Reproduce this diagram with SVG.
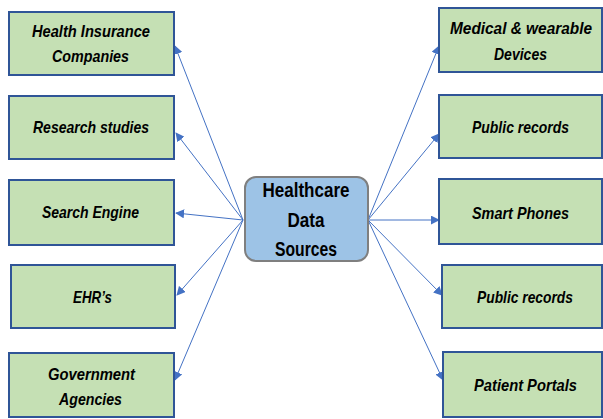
<svg xmlns="http://www.w3.org/2000/svg" width="603" height="419" viewBox="0 0 603 419">
  <style>
    .box { fill: #C5E0B4; stroke: #2F5597; stroke-width: 2; }
    .hub { fill: #9DC3E6; stroke: #7F7F7F; stroke-width: 2; }
    .lbl { font-family: "Liberation Sans", Arial, sans-serif; font-size: 17px; font-weight: bold; font-style: italic; fill: #000; }
    .hubtxt { font-family: "Liberation Sans", Arial, sans-serif; font-size: 20px; font-weight: bold; fill: #000; }
    .link { stroke: #4472C4; stroke-width: 1; fill: none; marker-end: url(#head); }
  </style>
  <defs>
    <marker id="head" viewBox="0 0 10 10" refX="9" refY="5" markerWidth="9" markerHeight="9" markerUnits="userSpaceOnUse" orient="auto">
      <path d="M0,0 L10,5 L0,10 Z" fill="#4472C4"/>
    </marker>
  </defs>

  <rect width="603" height="419" fill="#FFFFFF"/>

  <g id="connectors">
    <line class="link" x1="243" y1="220" x2="175" y2="46"/>
    <line class="link" x1="243" y1="220" x2="176" y2="133"/>
    <line class="link" x1="243" y1="220" x2="176" y2="213"/>
    <line class="link" x1="243" y1="220" x2="177" y2="295"/>
    <line class="link" x1="243" y1="220" x2="175" y2="380"/>
    <line class="link" x1="368" y1="220" x2="439" y2="46"/>
    <line class="link" x1="368" y1="220" x2="439" y2="134"/>
    <line class="link" x1="368" y1="220" x2="439" y2="220"/>
    <line class="link" x1="368" y1="220" x2="442" y2="295"/>
    <line class="link" x1="368" y1="220" x2="443" y2="380"/>
  </g>

  <g id="hub">
    <rect class="hub" x="245" y="177" width="123" height="84" rx="11"/>
    <text class="hubtxt" x="306" y="197" text-anchor="middle" textLength="87" lengthAdjust="spacingAndGlyphs">Healthcare</text>
    <text class="hubtxt" x="306" y="227" text-anchor="middle" textLength="37" lengthAdjust="spacingAndGlyphs">Data</text>
    <text class="hubtxt" x="306" y="256" text-anchor="middle" textLength="62" lengthAdjust="spacingAndGlyphs">Sources</text>
  </g>

  <g id="health-insurance">
    <rect class="box" x="9" y="12" width="165" height="63"/>
    <text class="lbl" x="32" y="37" textLength="118" lengthAdjust="spacingAndGlyphs">Health Insurance</text>
    <text class="lbl" x="52" y="62" textLength="77" lengthAdjust="spacingAndGlyphs">Companies</text>
  </g>
  <g id="research-studies">
    <rect class="box" x="9" y="96" width="165" height="63"/>
    <text class="lbl" x="33" y="133" textLength="116" lengthAdjust="spacingAndGlyphs">Research studies</text>
  </g>
  <g id="search-engine">
    <rect class="box" x="9" y="180" width="165" height="65"/>
    <text class="lbl" x="42" y="218" textLength="97" lengthAdjust="spacingAndGlyphs">Search Engine</text>
  </g>
  <g id="ehrs">
    <rect class="box" x="11" y="265" width="164" height="63"/>
    <text class="lbl" x="73" y="303" textLength="39" lengthAdjust="spacingAndGlyphs">EHR’s</text>
  </g>
  <g id="government">
    <rect class="box" x="9" y="353" width="165" height="64"/>
    <text class="lbl" x="48" y="380" textLength="87" lengthAdjust="spacingAndGlyphs">Government</text>
    <text class="lbl" x="59" y="405" textLength="63" lengthAdjust="spacingAndGlyphs">Agencies</text>
  </g>

  <g id="medical-devices">
    <rect class="box" x="439" y="8" width="163" height="64"/>
    <text class="lbl" x="450" y="34" textLength="142" lengthAdjust="spacingAndGlyphs">Medical &amp; wearable</text>
    <text class="lbl" x="494" y="60" textLength="53" lengthAdjust="spacingAndGlyphs">Devices</text>
  </g>
  <g id="public-records-1">
    <rect class="box" x="439" y="95" width="163" height="63"/>
    <text class="lbl" x="472" y="133" textLength="97" lengthAdjust="spacingAndGlyphs">Public records</text>
  </g>
  <g id="smart-phones">
    <rect class="box" x="439" y="179" width="163" height="65"/>
    <text class="lbl" x="472" y="219" textLength="97" lengthAdjust="spacingAndGlyphs">Smart Phones</text>
  </g>
  <g id="public-records-2">
    <rect class="box" x="442" y="265" width="160" height="63"/>
    <text class="lbl" x="477" y="303" textLength="96" lengthAdjust="spacingAndGlyphs">Public records</text>
  </g>
  <g id="patient-portals">
    <rect class="box" x="443" y="352" width="159" height="65"/>
    <text class="lbl" x="474" y="391" textLength="103" lengthAdjust="spacingAndGlyphs">Patient Portals</text>
  </g>
</svg>
